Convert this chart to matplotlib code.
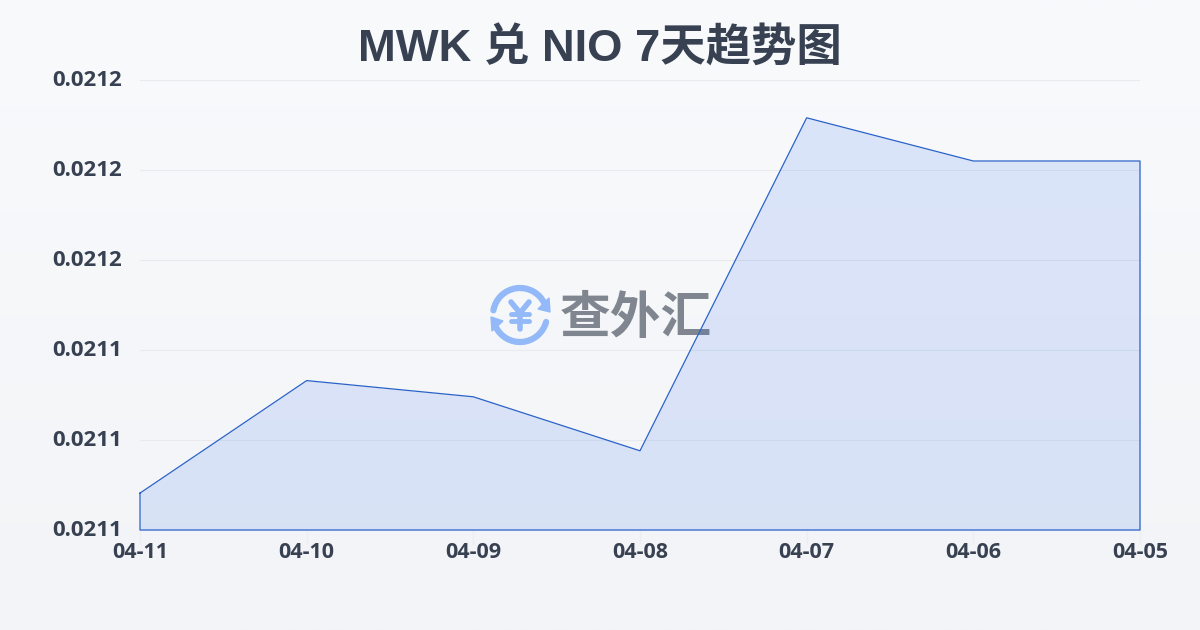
import numpy as np
import matplotlib
matplotlib.use('Agg')
import matplotlib.pyplot as plt
from matplotlib.patches import Arc, Polygon
from matplotlib.transforms import ScaledTranslation

dates = ['04-11', '04-10', '04-09', '04-08', '04-07', '04-06', '04-05']
rates = [0.0211241, 0.0211366, 0.0211348, 0.0211288, 0.0211658, 0.0211610, 0.0211610]
y_ticks = [0.02112, 0.02113, 0.02114, 0.02115, 0.02116, 0.02117]
y_labels = ['0.0211', '0.0211', '0.0211', '0.0212', '0.0212', '0.0212']

title = 'MWK 兑 NIO 7天趋势图'

fig = plt.figure(figsize=(12, 6.3), dpi=100)

# background gradient + watermark, in pixel coords
bg = fig.add_axes([0, 0, 1, 1], zorder=0)
bg.set_xlim(0, 1200)
bg.set_ylim(630, 0)
bg.axis('off')
grad = np.linspace(0, 1, 256).reshape(-1, 1)
cmap = matplotlib.colors.LinearSegmentedColormap.from_list('bg', ['#f8fafc', '#f2f4f7'])
bg.imshow(grad, cmap=cmap, extent=[0, 1200, 630, 0], aspect='auto', zorder=0)

blue = '#93b9f8'
bg.add_patch(Arc((520, 315), 54, 54, theta1=190, theta2=335, color=blue, lw=4.5, capstyle='round', zorder=1))
bg.add_patch(Arc((520, 315), 54, 54, theta1=15, theta2=155, color=blue, lw=4.5, capstyle='round', zorder=1))
bg.add_patch(Polygon([(538, 309), (549, 298), (550, 312)], color=blue, zorder=1))
bg.add_patch(Polygon([(491, 317), (503, 321), (492, 331)], color=blue, zorder=1))
# yen sign of the logo
bg.plot([511, 520, 529], [302, 313, 302], color=blue, lw=4, solid_capstyle='round', zorder=1)
bg.plot([520, 520], [313, 329], color=blue, lw=4, solid_capstyle='round', zorder=1)
bg.plot([511, 529], [314, 314], color=blue, lw=3.5, solid_capstyle='round', zorder=1)
bg.plot([511, 529], [321, 321], color=blue, lw=3.5, solid_capstyle='round', zorder=1)
bg.text(636, 319, '查外汇', fontsize=36.5, fontweight='bold', color='#80868f', ha='center', va='center',
        family=['Noto Sans CJK SC', 'DejaVu Sans'], zorder=1)

bg.text(600, 49, title, fontsize=32.7, fontweight='bold', color='#374151', ha='center', va='center',
        family=['Liberation Sans', 'Noto Sans CJK SC'], zorder=1)

# main chart
ax = fig.add_axes([140 / 1200, 100 / 630, 1000 / 1200, 450 / 630], zorder=1)
ax.patch.set_alpha(0)
x = np.arange(len(dates))
ax.set_xlim(0, len(dates) - 1)
ax.set_ylim(y_ticks[0], y_ticks[-1])

ax.grid(axis='y', color='#e8eaee', lw=0.8, zorder=1)
ax.fill_between(x, rates, y_ticks[0], color='#2563eb', alpha=0.13, lw=0, zorder=2)
ax.plot(list(x) + [x[-1], x[0], x[0]], rates + [y_ticks[0], y_ticks[0], rates[0]],
        color='#2a62c9', lw=0.9, zorder=3, clip_on=False)

for s in ax.spines.values():
    s.set_visible(False)

ax.set_xticks(x)
ax.set_xticklabels(dates)
ax.set_yticks(y_ticks)
ax.set_yticklabels(y_labels)
ax.tick_params(axis='x', length=10, width=1, color='#eceef0', pad=-1)
ax.tick_params(axis='y', length=0, pad=13)
for lab in ax.get_xticklabels():
    lab.set(fontsize=15.5, fontweight='bold', color='#374151', family=['Open Sans', 'DejaVu Sans'])
up = ScaledTranslation(0, 1.5 / 72, fig.dpi_scale_trans)
for lab in ax.get_yticklabels():
    lab.set(fontsize=16, fontweight='bold', color='#374151', family=['Open Sans', 'DejaVu Sans'])
    lab.set_transform(lab.get_transform() + up)

fig.savefig('out.png', dpi=100)
